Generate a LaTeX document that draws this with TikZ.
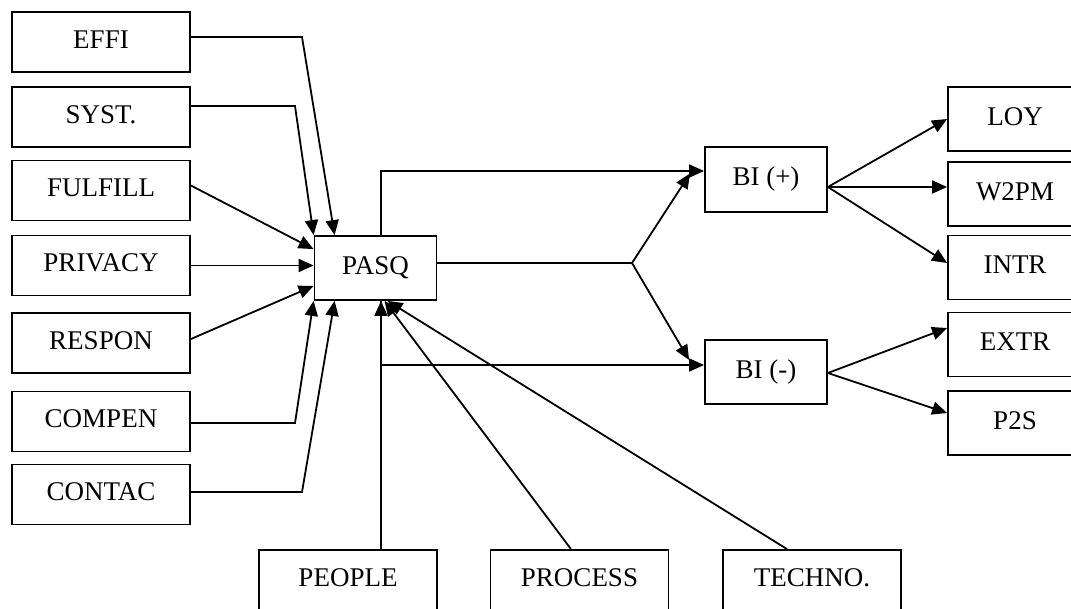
\documentclass[tikz,border=0pt]{standalone}
\usepackage{fontspec}
\setmainfont{Liberation Serif}
\usetikzlibrary{arrows.meta}

\begin{document}
\begin{tikzpicture}
    [x=1pt, y=-1pt,
    line width=1.8pt,
    font=\fontsize{27}{30}\selectfont,
    box/.style={draw, rectangle, inner sep=0pt, minimum width=178pt, minimum height=60pt, text height=19pt, text depth=7pt},
    small/.style={box, minimum width=122pt, minimum height=64pt},
    right box/.style={box, minimum width=134pt, minimum height=64pt},
    pto/.style={-{Triangle[length=15pt, width=13pt]}}]
    \useasboundingbox (0,0) rectangle (1071,608);
        %% Dimensions of PASQ
        \node[box] (EFFI) at (101,42) {EFFI};
        \node[box] (SYST) at (101,117) {SYST.};
        \node[box] (FULFILL) at (101,190.5) {FULFILL};
        \node[box] (PRIVACY) at (101,265.5) {PRIVACY};
        \node[box] (RESPON) at (101,343) {RESPON};
        \node[box] (COMPEN) at (101,421.5) {COMPEN};
        \node[box] (CONTAC) at (101,494.5) {CONTAC};

        %% Quality and intentions
        \node[small] (PASQ) at (375.5,268) {PASQ};
        \node[small, minimum height=65pt] (BIp) at (766,179.5) {BI (+)};
        \node[small] (BIm) at (766,372) {BI (-)};

        %% Outcomes
        \node[right box] (LOY) at (1015,119) {LOY};
        \node[right box] (W2PM) at (1015,194) {W2PM};
        \node[right box] (INTR) at (1015,267.5) {INTR};
        \node[right box] (EXTR) at (1015,344.5) {EXTR};
        \node[right box] (P2S) at (1015,423) {P2S};

        %% Antecedents below
        \node[box] (PEOPLE) at (348,580) {PEOPLE};
        \node[box] (PROCESS) at (579.5,580) {PROCESS};
        \node[box] (TECHNO) at (812,580) {TECHNO.};

        %% Left side into PASQ
        \draw[pto] ([yshift=5pt]EFFI.east) -- (302,37) -- ([xshift=21pt]PASQ.north west);
        \draw[pto] ([yshift=11pt]SYST.east) -- (295,106) -- (PASQ.north west);
        \draw[pto] ([yshift=5pt]FULFILL.east) -- ([yshift=-14pt]PASQ.north west);
        \draw[pto] (PRIVACY.east) -- (PRIVACY.east -| PASQ.west);
        \draw[pto] ([yshift=4pt]RESPON.east) -- ([yshift=15pt]PASQ.south west);
        \draw[pto] ([yshift=-1.5pt]COMPEN.east) -- (295,423) -- (PASQ.south west);
        \draw[pto] ([yshift=2.5pt]CONTAC.east) -- (302,492) -- ([xshift=21pt]PASQ.south west);

        %% Bottom into PASQ
        \draw[pto] ([xshift=33pt]PEOPLE.north) -- ([xshift=5.5pt]PASQ.south);
        \draw[pto] ([xshift=-8.5pt]PROCESS.north) -- ([xshift=9pt]PASQ.south);
        \draw[pto] ([xshift=-25pt]TECHNO.north) -- ([xshift=12pt]PASQ.south);

        %% PASQ to BI
        \draw[pto] ([xshift=5.5pt]PASQ.north) |- ([yshift=8.5pt]BIp.west);
        \draw[pto] ([xshift=5.5pt]PASQ.south) |- ([yshift=7pt]BIm.west);
        \coordinate (fork) at (632,263);
        \draw ([yshift=5pt]PASQ.east) -- (fork);
        \draw[pto] (fork) -- ([xshift=-14pt,yshift=6pt]BIp.west);
        \draw[pto] (fork) -- ([xshift=-15pt,yshift=12pt]BIm.west);

        %% BI to outcomes
        \draw[pto] ([yshift=-7.5pt]BIp.east) -- (LOY.west);
        \draw[pto] ([yshift=-7.5pt]BIp.east) -- ([yshift=7pt]W2PM.west);
        \draw[pto] ([yshift=-7.5pt]BIp.east) -- ([yshift=4.5pt]INTR.west);
        \draw[pto] ([yshift=-1pt]BIm.east) -- ([yshift=16.5pt]EXTR.west);
        \draw[pto] ([yshift=-1pt]BIm.east) -- ([yshift=10pt]P2S.west);
    \end{tikzpicture}
\end{document}
